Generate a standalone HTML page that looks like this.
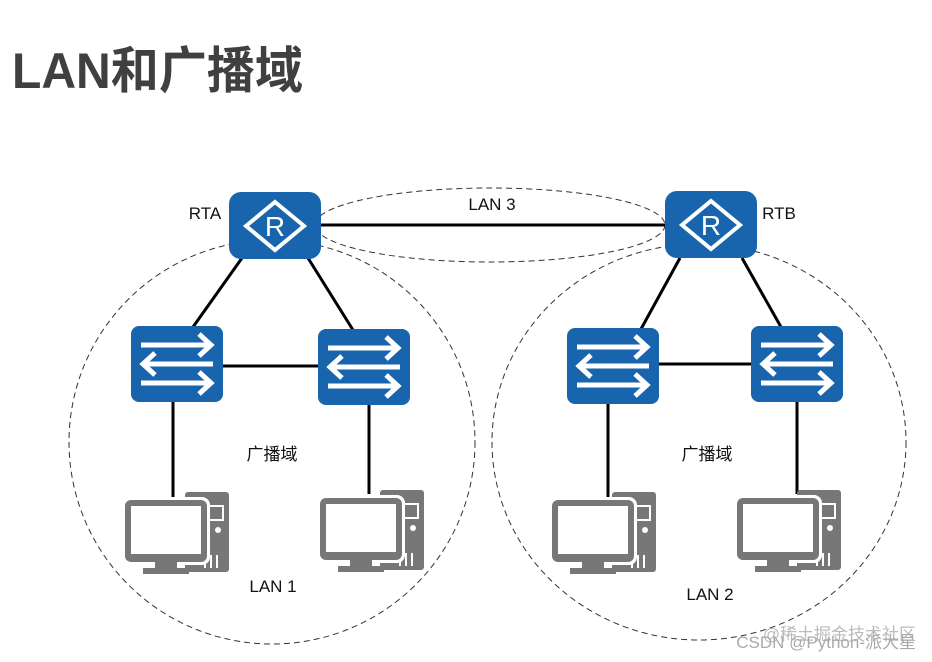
<!DOCTYPE html>
<html><head><meta charset="utf-8"><style>
html,body{margin:0;padding:0;background:#fff;}
svg{display:block;}
text{font-family:"Liberation Sans","Noto Sans CJK SC",sans-serif;}
</style></head><body>
<svg width="932" height="662" viewBox="0 0 932 662" xmlns="http://www.w3.org/2000/svg">
<defs>
<g id="rt">
<rect x="0" y="0" width="92" height="67" rx="12" fill="#1864ad"/>
<polygon points="46,10 75,34 46,58 17,34" fill="none" stroke="#fff" stroke-width="4"/>
<text x="46" y="44" font-size="28" fill="#fff" text-anchor="middle">R</text>
</g>
<g id="sw" fill="none" stroke="#fff" stroke-width="5">
<rect x="0" y="0" width="92" height="76" rx="8" fill="#1864ad" stroke="none"/>
<line x1="10" y1="19" x2="80" y2="19"/><polyline points="68,8 80,19 68,30"/>
<line x1="12" y1="38" x2="82" y2="38"/><polyline points="24,27 12,38 24,49"/>
<line x1="10" y1="57" x2="80" y2="57"/><polyline points="68,46 80,57 68,68"/>
</g>
<g id="pc">
<rect x="60" y="-8" width="44" height="80" rx="3" fill="#777"/>
<rect x="70" y="6" width="28" height="14" fill="none" stroke="#fff" stroke-width="2"/>
<circle cx="93" cy="30" r="3" fill="#fff"/>
<g stroke="#fff" stroke-width="2"><line x1="80" y1="55" x2="80" y2="68"/><line x1="86" y1="55" x2="86" y2="68"/><line x1="92" y1="55" x2="92" y2="68"/></g>
<rect x="-3" y="-3" width="88" height="68" rx="8" fill="#fff"/>
<rect x="0" y="0" width="82" height="62" rx="6" fill="#777"/>
<rect x="6" y="6" width="70" height="48" fill="#fff"/>
<rect x="30" y="62" width="22" height="7" fill="#777"/>
<rect x="18" y="68" width="46" height="6" fill="#777"/>
</g>
</defs>
<text x="12" y="88" font-size="50" font-weight="bold" fill="#404040" textLength="291" lengthAdjust="spacingAndGlyphs">LAN和广播域</text>
<g fill="none" stroke="#333" stroke-width="1" stroke-dasharray="6,4">
<ellipse cx="272" cy="442" rx="203" ry="202"/>
<ellipse cx="699" cy="442" rx="207" ry="198"/>
<ellipse cx="490" cy="225" rx="175" ry="37"/>
</g>
<g stroke="#000" stroke-width="3">
<line x1="320" y1="225" x2="665" y2="225"/>
<line x1="242" y1="258" x2="193" y2="327"/>
<line x1="308" y1="258" x2="353" y2="330"/>
<line x1="222" y1="366" x2="318" y2="366"/>
<line x1="680" y1="258" x2="641" y2="329"/>
<line x1="742" y1="258" x2="781" y2="327"/>
<line x1="659" y1="364" x2="752" y2="364"/>
<line x1="173" y1="402" x2="173" y2="500"/>
<line x1="369" y1="404" x2="369" y2="494"/>
<line x1="608" y1="403" x2="608" y2="500"/>
<line x1="797" y1="401" x2="797" y2="494"/>
</g>
<use href="#rt" x="229" y="192"/>
<use href="#rt" x="665" y="191"/>
<use href="#sw" x="131" y="326"/>
<use href="#sw" x="318" y="329"/>
<use href="#sw" x="567" y="328"/>
<use href="#sw" x="751" y="326"/>
<use href="#pc" x="125" y="500"/>
<use href="#pc" x="320" y="498"/>
<use href="#pc" x="552" y="500"/>
<use href="#pc" x="737" y="498"/>
<g font-size="17" fill="#111" text-anchor="middle">
<text x="205" y="219">RTA</text>
<text x="779" y="219">RTB</text>
<text x="492" y="210">LAN 3</text>
<text x="272" y="460">广播域</text>
<text x="707" y="460">广播域</text>
<text x="273" y="592">LAN 1</text>
<text x="710" y="600">LAN 2</text>
</g>
<text x="916" y="640" font-size="17" fill="#bbb" text-anchor="end">@稀土掘金技术社区</text>
<text x="916" y="648" font-size="17" fill="#aaa" text-anchor="end">CSDN @Python-派大星</text>
</svg>
</body></html>
